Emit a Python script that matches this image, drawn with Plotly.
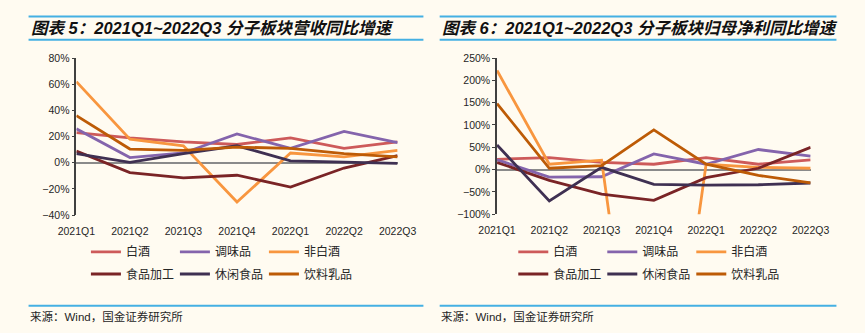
import plotly.graph_objects as go

categories = ["2021Q1", "2021Q2", "2021Q3", "2021Q4", "2022Q1", "2022Q2", "2022Q3"]
series_names = ["白酒", "调味品", "非白酒", "食品加工", "休闲食品", "饮料乳品"]
colors = ["#CD5A5A", "#8464AC", "#F8963F", "#7A2426", "#3F3052", "#BD5B06"]

# 营收同比增速 (%)
rev_baijiu = [23, 19, 16, 14, 19, 11, 16]
rev_tiaowei = [26, 4, 7.5, 22, 11, 24, 15.5]
rev_feibaijiu = [62, 18, 13, -30, 7.5, 4.5, 9.5]
rev_shipin = [9, -7.5, -11.5, -9.5, -18.5, -4, 5.5]
rev_xiuxian = [7, 0.3, 7, 13, 1.5, 0.5, -0.5]
rev_yinliao = [36, 10.5, 9.5, 12, 11, 7, 4.5]

# 归母净利同比增速 (%)
np_baijiu = [23, 27, 16, 12, 27, 12, 22]
np_tiaowei = [22, -17, -16, 35, 12, 45, 30]
np_feibaijiu = [222, 12, 21, -820, 12, 5, 3]
np_shipin = [16, -24, -55, -69, -18, 3, 50]
np_xiuxian = [55, -70, 5, -33, -35, -34, -30]
np_yinliao = [148, 3, 9, 89, 12, -13, -30]

left_series = [rev_baijiu, rev_tiaowei, rev_feibaijiu, rev_shipin, rev_xiuxian, rev_yinliao]
right_series = [np_baijiu, np_tiaowei, np_feibaijiu, np_shipin, np_xiuxian, np_yinliao]

W, H = 865, 333
BG = "#FFFBF1"
BLUE = "#45B0E3"
NUMFONT = "Liberation Sans, Arial, Noto Sans CJK SC"
CJK = "Noto Sans CJK SC"

fig = go.Figure()

for i, (name, vals) in enumerate(zip(series_names, left_series)):
    fig.add_trace(go.Scatter(x=categories, y=vals, name=name, mode="lines",
                             line=dict(color=colors[i], width=2.8),
                             xaxis="x", yaxis="y",
                             legend="legend" if i < 3 else "legend2"))
for i, (name, vals) in enumerate(zip(series_names, right_series)):
    fig.add_trace(go.Scatter(x=categories, y=vals, name=name, mode="lines",
                             line=dict(color=colors[i], width=2.8),
                             xaxis="x2", yaxis="y2",
                             legend="legend3" if i < 3 else "legend4"))

def px_x(p):
    return p / W

def px_y(p):
    return 1 - p / H

axis_common = dict(showgrid=False, tickfont=dict(family=NUMFONT, size=10.5, color="#262626"))

fig.update_layout(
    width=W, height=H,
    margin=dict(l=0, r=0, t=0, b=0),
    paper_bgcolor=BG, plot_bgcolor=BG,
    showlegend=True,
    xaxis=dict(domain=[px_x(60), px_x(396)], anchor="y", type="category",
               showline=False, ticks="", ticklabelstandoff=8, **axis_common),
    yaxis=dict(domain=[px_y(217), px_y(54)], anchor="x", range=[-40, 80], dtick=20,
               ticksuffix="%", showline=True, linecolor="#404040", linewidth=1.5,
               ticks="outside", ticklen=3, tickcolor="#404040",
               zeroline=True, zerolinecolor="#8A8A8A", zerolinewidth=1.8, **axis_common),
    xaxis2=dict(domain=[px_x(500), px_x(828)], anchor="y2", type="category",
                showline=False, ticks="", ticklabelstandoff=8, **axis_common),
    yaxis2=dict(domain=[px_y(216), px_y(54)], anchor="x2", range=[-100, 250], dtick=50,
                ticksuffix="%", showline=True, linecolor="#404040", linewidth=1.5,
                ticks="outside", ticklen=3, tickcolor="#404040",
                zeroline=True, zerolinecolor="#8A8A8A", zerolinewidth=1.8, **axis_common),
)

leg_common = dict(orientation="h", xanchor="left", yanchor="middle",
                  entrywidth=44, entrywidthmode="pixels", bgcolor="rgba(0,0,0,0)",
                  font=dict(family=CJK, size=12, color="#262626"),
                  itemclick=False, tracegroupgap=0)
fig.update_layout(
    legend=dict(x=px_x(70), y=px_y(255), **leg_common),
    legend2=dict(x=px_x(70), y=px_y(278), **leg_common),
    legend3=dict(x=px_x(517), y=px_y(255), **leg_common),
    legend4=dict(x=px_x(517), y=px_y(278), **leg_common),
)

# decorative rules
for x0, x1 in [(10, 423), (440, 855)]:
    for yy in (11, 35, 311):
        fig.add_shape(type="line", xref="paper", yref="paper",
                      x0=px_x(x0), x1=px_x(x1), y0=px_y(yy), y1=px_y(yy),
                      line=dict(color=BLUE, width=2))

titles = [("图表 5：2021Q1~2022Q3 分子板块营收同比增速", 10),
          ("图表 6：2021Q1~2022Q3 分子板块归母净利同比增速", 440)]
for t, x0 in titles:
    fig.add_annotation(text="<b><i>" + t + "</i></b>", xref="paper", yref="paper",
                       x=px_x(x0), y=px_y(23), xanchor="left", yanchor="middle",
                       showarrow=False,
                       font=dict(family="Liberation Sans, Arial, Noto Sans CJK SC", size=16.5, color="#111111"))
for x0 in (9, 439):
    fig.add_annotation(text="来源：Wind，国金证券研究所", xref="paper", yref="paper",
                       x=px_x(x0), y=px_y(322), xanchor="left", yanchor="middle",
                       showarrow=False,
                       font=dict(family="Liberation Sans, Arial, Noto Sans CJK SC", size=11.5, color="#262626"))

fig.write_html("out.html")
